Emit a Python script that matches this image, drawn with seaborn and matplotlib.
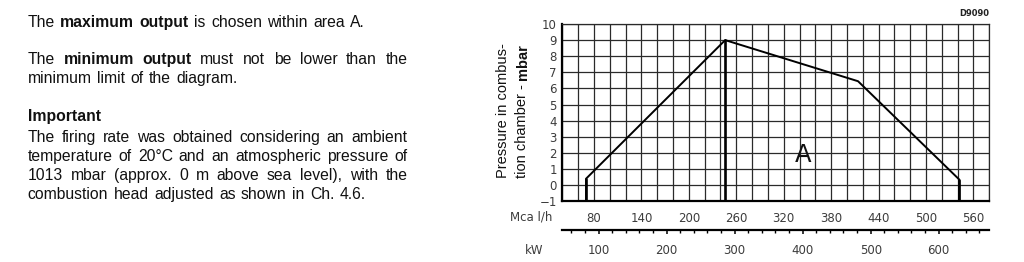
import matplotlib
matplotlib.use("Agg")
import matplotlib.pyplot as plt
from matplotlib.ticker import MultipleLocator, FixedLocator
import seaborn as sns
import pandas as pd
import numpy as np

# ---------------- data ----------------
mcal_ticks = [80, 140, 200, 260, 320, 380, 440, 500, 560]
kw_ticks = [100, 200, 300, 400, 500, 600]
pressure_ticks = [-1, 0, 1, 2, 3, 4, 5, 6, 7, 8, 9, 10]
envelope_mcal = [70, 70, 246, 414, 542, 542]
envelope_mbar = [-1, 0.4, 9.0, 6.45, 0.35, -1]
peak_mcal = [246, 246]
peak_mbar = [9.0, -1]
x_range = [40, 580]
y_range = [-1, 10]
MCAL_PER_KW = 0.86

para1 = [[("The ", "normal"), ("maximum output", "bold"), (" is chosen within area A.", "normal")]]
para2 = [[("The ", "normal"), ("minimum output", "bold"), (" must not be lower than the", "normal")],
         [("minimum limit of the diagram.", "normal")]]
para3_title = [[("Important", "bold")]]
para3 = [[("The firing rate was obtained considering an ambient", "normal")],
         [("temperature of 20°C and an atmospheric pressure of", "normal")],
         [("1013 mbar (approx. 0 m above sea level), with the", "normal")],
         [("combustion head adjusted as shown in Ch. 4.6.", "normal")]]

# ---------------- style ----------------
sns.set_theme(style="white")
plt.rcParams["font.family"] = ["Liberation Sans", "DejaVu Sans"]

W, H = 1024, 262
fig = plt.figure(figsize=(W / 100, H / 100), dpi=100)


def fx(px):
    return px / W


def fy(py):
    return 1 - py / H


AX_L, AX_R, AX_T, AX_B = 562.3, 989.3, 24.0, 201.3
ax = fig.add_axes([fx(AX_L), fy(AX_B), (AX_R - AX_L) / W, (AX_B - AX_T) / H])
ax.set_xlim(*x_range)
ax.set_ylim(*y_range)

GRID_C = "#2a2a2a"
LBL_C = "#3c3c3c"

ax.xaxis.set_major_locator(FixedLocator(mcal_ticks))
ax.xaxis.set_minor_locator(MultipleLocator(20))
ax.yaxis.set_major_locator(FixedLocator(pressure_ticks))
ax.grid(True, which="both", axis="x", color=GRID_C, lw=0.9)
ax.grid(True, which="major", axis="y", color=GRID_C, lw=0.9)
ax.set_axisbelow(True)

for s in ["top", "right"]:
    ax.spines[s].set_visible(True)
    ax.spines[s].set_linewidth(0.9)
    ax.spines[s].set_color(GRID_C)
for s in ["left", "bottom"]:
    ax.spines[s].set_visible(True)
    ax.spines[s].set_linewidth(1.6)
    ax.spines[s].set_color("black")

ax.tick_params(axis="both", which="both", length=0)
ax.tick_params(axis="x", which="major", pad=7.5, labelsize=8.5, labelcolor=LBL_C,
               labelfontfamily="DejaVu Sans")
ax.tick_params(axis="y", which="major", pad=4, labelsize=8.5, labelcolor=LBL_C,
               labelfontfamily="DejaVu Sans")
ax.set_xticklabels([str(v) for v in mcal_ticks])
ax.set_yticklabels(["\u22121" if v < 0 else str(v) for v in pressure_ticks])

# envelope via seaborn
df = pd.DataFrame({"mcal": envelope_mcal, "mbar": envelope_mbar})
sns.lineplot(data=df, x="mcal", y="mbar", sort=False, estimator=None,
             color="black", lw=1.4, ax=ax)
sns.lineplot(data=df.iloc[0:2], x="mcal", y="mbar", sort=False, estimator=None,
             color="black", lw=1.9, ax=ax)
sns.lineplot(data=df.iloc[4:6], x="mcal", y="mbar", sort=False, estimator=None,
             color="black", lw=1.9, ax=ax)
dfp = pd.DataFrame({"mcal": peak_mcal, "mbar": peak_mbar})
sns.lineplot(data=dfp, x="mcal", y="mbar", sort=False, estimator=None,
             color="black", lw=1.9, ax=ax)
ax.set_xlabel("")
ax.set_ylabel("")

ax.text(345, 1.44, "A", fontsize=17.5, family="DejaVu Sans", color="#111111",
        ha="center", va="baseline")

# secondary kW axis
sec_loc = -(230 - AX_B) / (AX_B - AX_T)
sec = ax.secondary_xaxis(sec_loc, functions=(lambda m: m / MCAL_PER_KW,
                                             lambda k: k * MCAL_PER_KW))
sec.xaxis.set_major_locator(FixedLocator(kw_ticks))
sec.xaxis.set_minor_locator(MultipleLocator(20))
sec.set_xticklabels([str(v) for v in kw_ticks])
sec.spines["bottom"].set_linewidth(1.6)
sec.spines["bottom"].set_color("black")
sec.tick_params(which="major", direction="out", length=3.2, width=1.1, pad=7,
                labelsize=8.5, labelcolor=LBL_C, labelfontfamily="DejaVu Sans", color="black")
sec.tick_params(which="minor", direction="out", length=1.8, width=1.0, color="black")

# axis captions
fig.text(fx(531), fy(217), "Mca l/h", fontsize=8.5, family="DejaVu Sans", color=LBL_C,
         ha="center", va="center")
fig.text(fx(534.5), fy(250), "kW", fontsize=8.5, family="DejaVu Sans", color=LBL_C,
         ha="center", va="center")
fig.text(fx(989.3), fy(16.5), "D9090", fontsize=6, fontweight="bold",
         family="DejaVu Sans", color="#222222", ha="right", va="baseline")

renderer = fig.canvas.get_renderer()
FS_LBL = 10.5
FS = 11.3
TXT_C = "#111111"

# rotated y label (two lines, second partly bold)
yl_bottom = 178.5
t1 = fig.text(fx(507), fy(yl_bottom), "Pressure in combus-", rotation=90, fontsize=FS_LBL,
              color=TXT_C, ha="left", va="baseline", rotation_mode="anchor")
t2 = fig.text(fx(526.5), fy(yl_bottom), "tion chamber - ", rotation=90, fontsize=FS_LBL,
              color=TXT_C, ha="left", va="baseline", rotation_mode="anchor")
h2 = t2.get_window_extent(renderer).height
fig.text(fx(526.5), fy(yl_bottom - h2), "mbar", rotation=90, fontsize=FS_LBL,
         fontweight="bold", color=TXT_C, ha="left", va="baseline", rotation_mode="anchor")

sp = fig.text(0, 0, "a a", fontsize=FS)
sp2 = fig.text(0, 0, "aa", fontsize=FS)
space_w = sp.get_window_extent(renderer).width - sp2.get_window_extent(renderer).width + 1.0
sp.remove()
sp2.remove()

# justified left-hand paragraphs
X0, X1 = 27.7, 407.3


def draw_line(segments, ybase, justify):
    words = []
    for txt, wgt in segments:
        for wd in txt.split():
            words.append((wd, wgt))
    objs = [fig.text(0, fy(ybase), wd, fontsize=FS, fontweight=wgt, color=TXT_C,
                     ha="left", va="baseline") for wd, wgt in words]
    widths = [o.get_window_extent(renderer).width for o in objs]
    if justify and len(objs) > 1:
        gap = (X1 - X0 - sum(widths)) / (len(objs) - 1)
    else:
        gap = space_w
    x = X0
    for o, w in zip(objs, widths):
        o.set_x(fx(x))
        x += w + gap


draw_line(para1[0], 26.7, False)
draw_line(para2[0], 64.0, True)
draw_line(para2[1], 83.0, False)
draw_line(para3_title[0], 120.7, False)
draw_line(para3[0], 141.7, True)
draw_line(para3[1], 160.7, True)
draw_line(para3[2], 180.0, True)
draw_line(para3[3], 199.0, False)

fig.savefig("out.png", dpi=100)
